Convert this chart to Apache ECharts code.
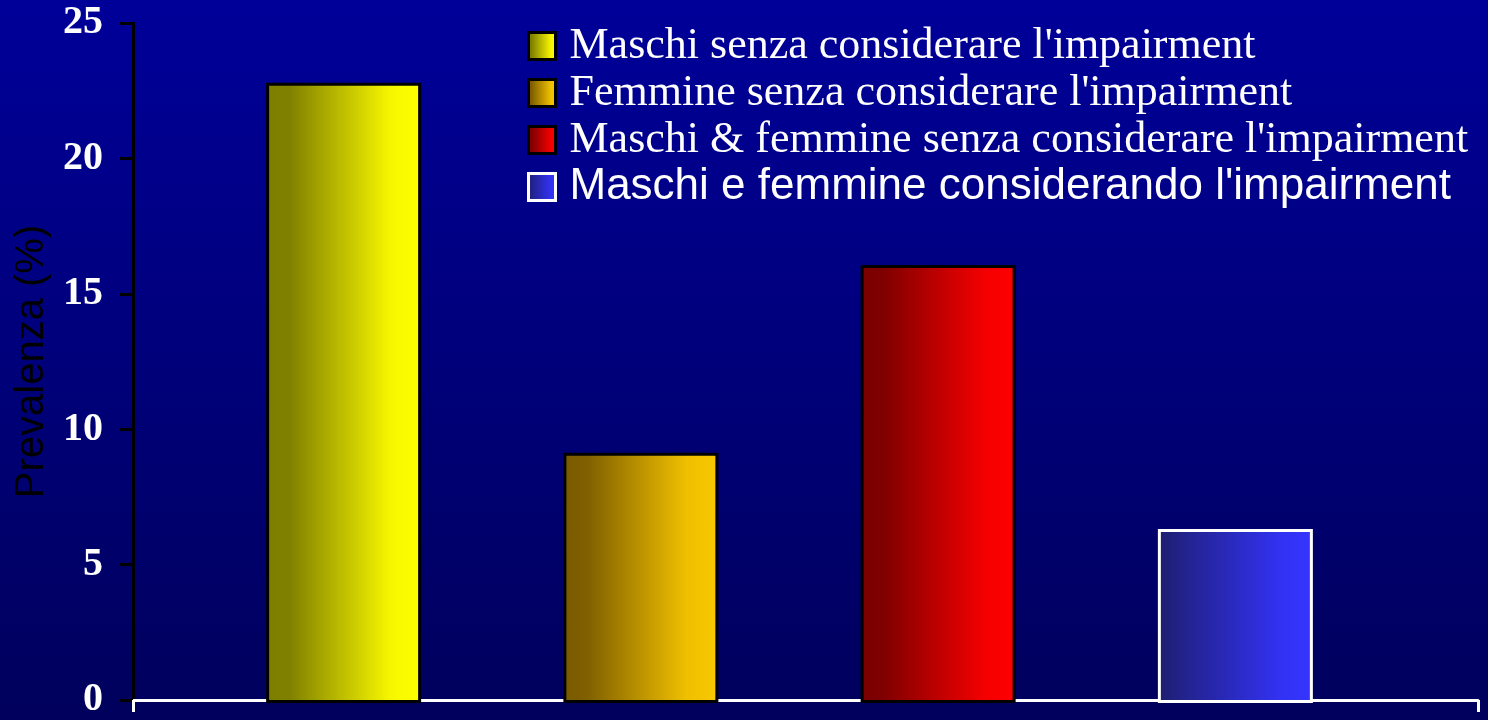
<!DOCTYPE html>
<html>
<head>
<meta charset="utf-8">
<script src="https://cdn.jsdelivr.net/npm/echarts@6/dist/echarts.min.js"></script>
<style>
html,body{margin:0;padding:0;background:#000080;}
#c{width:1488px;height:720px;}
</style>
</head>
<body>
<div id="c"></div>
<script>
const seriesNames = [
  "Maschi senza considerare l'impairment",
  "Femmine senza considerare l'impairment",
  "Maschi & femmine senza considerare l'impairment",
  "Maschi e femmine considerando l'impairment"
];
const values = [22.8, 9.2, 16.1, 6.4];
const slots = ['A', 'B', 'C', 'D'];
const yTicks = [0, 5, 10, 15, 20, 25];
const yAxisName = 'Prevalenza (%)';

const gradients = [
  ['#7d7d00', '#808000', '#f6f600', '#ffff00'],
  ['#7a5a00', '#7f5f00', '#f0c000', '#f8c800'],
  ['#7a0000', '#800000', '#f40000', '#ff0000'],
  ['#1e1e6e', '#22228a', '#3232f4', '#3535ff']
];
const borders = ['#000000', '#000000', '#000000', '#ffffff'];

function grad(c) {
  return new echarts.graphic.LinearGradient(0, 0, 1, 0, [
    {offset: 0, color: c[0]},
    {offset: 0.15, color: c[1]},
    {offset: 0.8, color: c[2]},
    {offset: 1, color: c[3]}
  ]);
}

const chart = echarts.init(document.getElementById('c'), null, {renderer: 'canvas'});

const series = seriesNames.map((name, i) => ({
  name: name,
  type: 'bar',
  xAxisIndex: 1,
  yAxisIndex: 1,
  barWidth: 155,
  barGap: '-100%',
  data: values.map((v, j) => (j === i ? v : '-')),
  itemStyle: {color: grad(gradients[i]), borderColor: borders[i], borderWidth: 3},
  emphasis: {disabled: true}
}));

chart.setOption({
  backgroundColor: new echarts.graphic.LinearGradient(0, 0, 0, 1, [
    {offset: 0, color: '#000099'},
    {offset: 1, color: '#00005c'}
  ]),
  animation: false,
  grid: [
    {left: 133, right: 10, top: 23, bottom: 17},
    {left: 195, right: 104, top: 23, bottom: 17}
  ],
  legend: {
    orient: 'vertical',
    left: 527,
    top: 24,
    padding: 0,
    itemWidth: 27,
    itemHeight: 27,
    itemGap: 3,
    icon: 'rect',
    itemStyle: {borderWidth: 3},
    selectedMode: false,
    data: seriesNames,
    formatter: function (name) {
      return name === seriesNames[3] ? '{b|' + name + '}' : '{a|' + name + '}';
    },
    textStyle: {
      color: '#ffffff',
      rich: {
        a: {fontFamily: 'Liberation Serif', fontSize: 44, color: '#ffffff', lineHeight: 47, padding: [0, 0, 0, 9]},
        b: {fontFamily: 'Liberation Sans', fontSize: 44, color: '#ffffff', lineHeight: 47, padding: [0, 0, 0, 9]}
      }
    }
  },
  xAxis: [
    {
      gridIndex: 0,
      type: 'category',
      data: [''],
      boundaryGap: true,
      axisLine: {lineStyle: {color: '#ffffff', width: 3}},
      axisTick: {show: true, length: 12, lineStyle: {color: '#ffffff', width: 3}},
      axisLabel: {show: false},
      splitLine: {show: false}
    },
    {
      gridIndex: 1,
      type: 'category',
      data: slots,
      show: false
    }
  ],
  yAxis: [
    {
      gridIndex: 0,
      type: 'value',
      min: yTicks[0],
      max: yTicks[yTicks.length - 1],
      interval: yTicks[1] - yTicks[0],
      name: yAxisName,
      nameLocation: 'middle',
      nameGap: 80,
      nameTextStyle: {color: '#000000', fontFamily: 'Liberation Sans', fontSize: 40},
      axisLine: {show: true, lineStyle: {color: '#000000', width: 3}},
      axisTick: {show: true, length: 13, lineStyle: {color: '#000000', width: 3}},
      axisLabel: {color: '#ffffff', fontFamily: 'Liberation Serif', fontWeight: 'bold', fontSize: 40, margin: 30},
      splitLine: {show: false}
    },
    {
      gridIndex: 1,
      type: 'value',
      min: yTicks[0],
      max: yTicks[yTicks.length - 1],
      show: false,
      splitLine: {show: false}
    }
  ],
  series: series
});
</script>
</body>
</html>
